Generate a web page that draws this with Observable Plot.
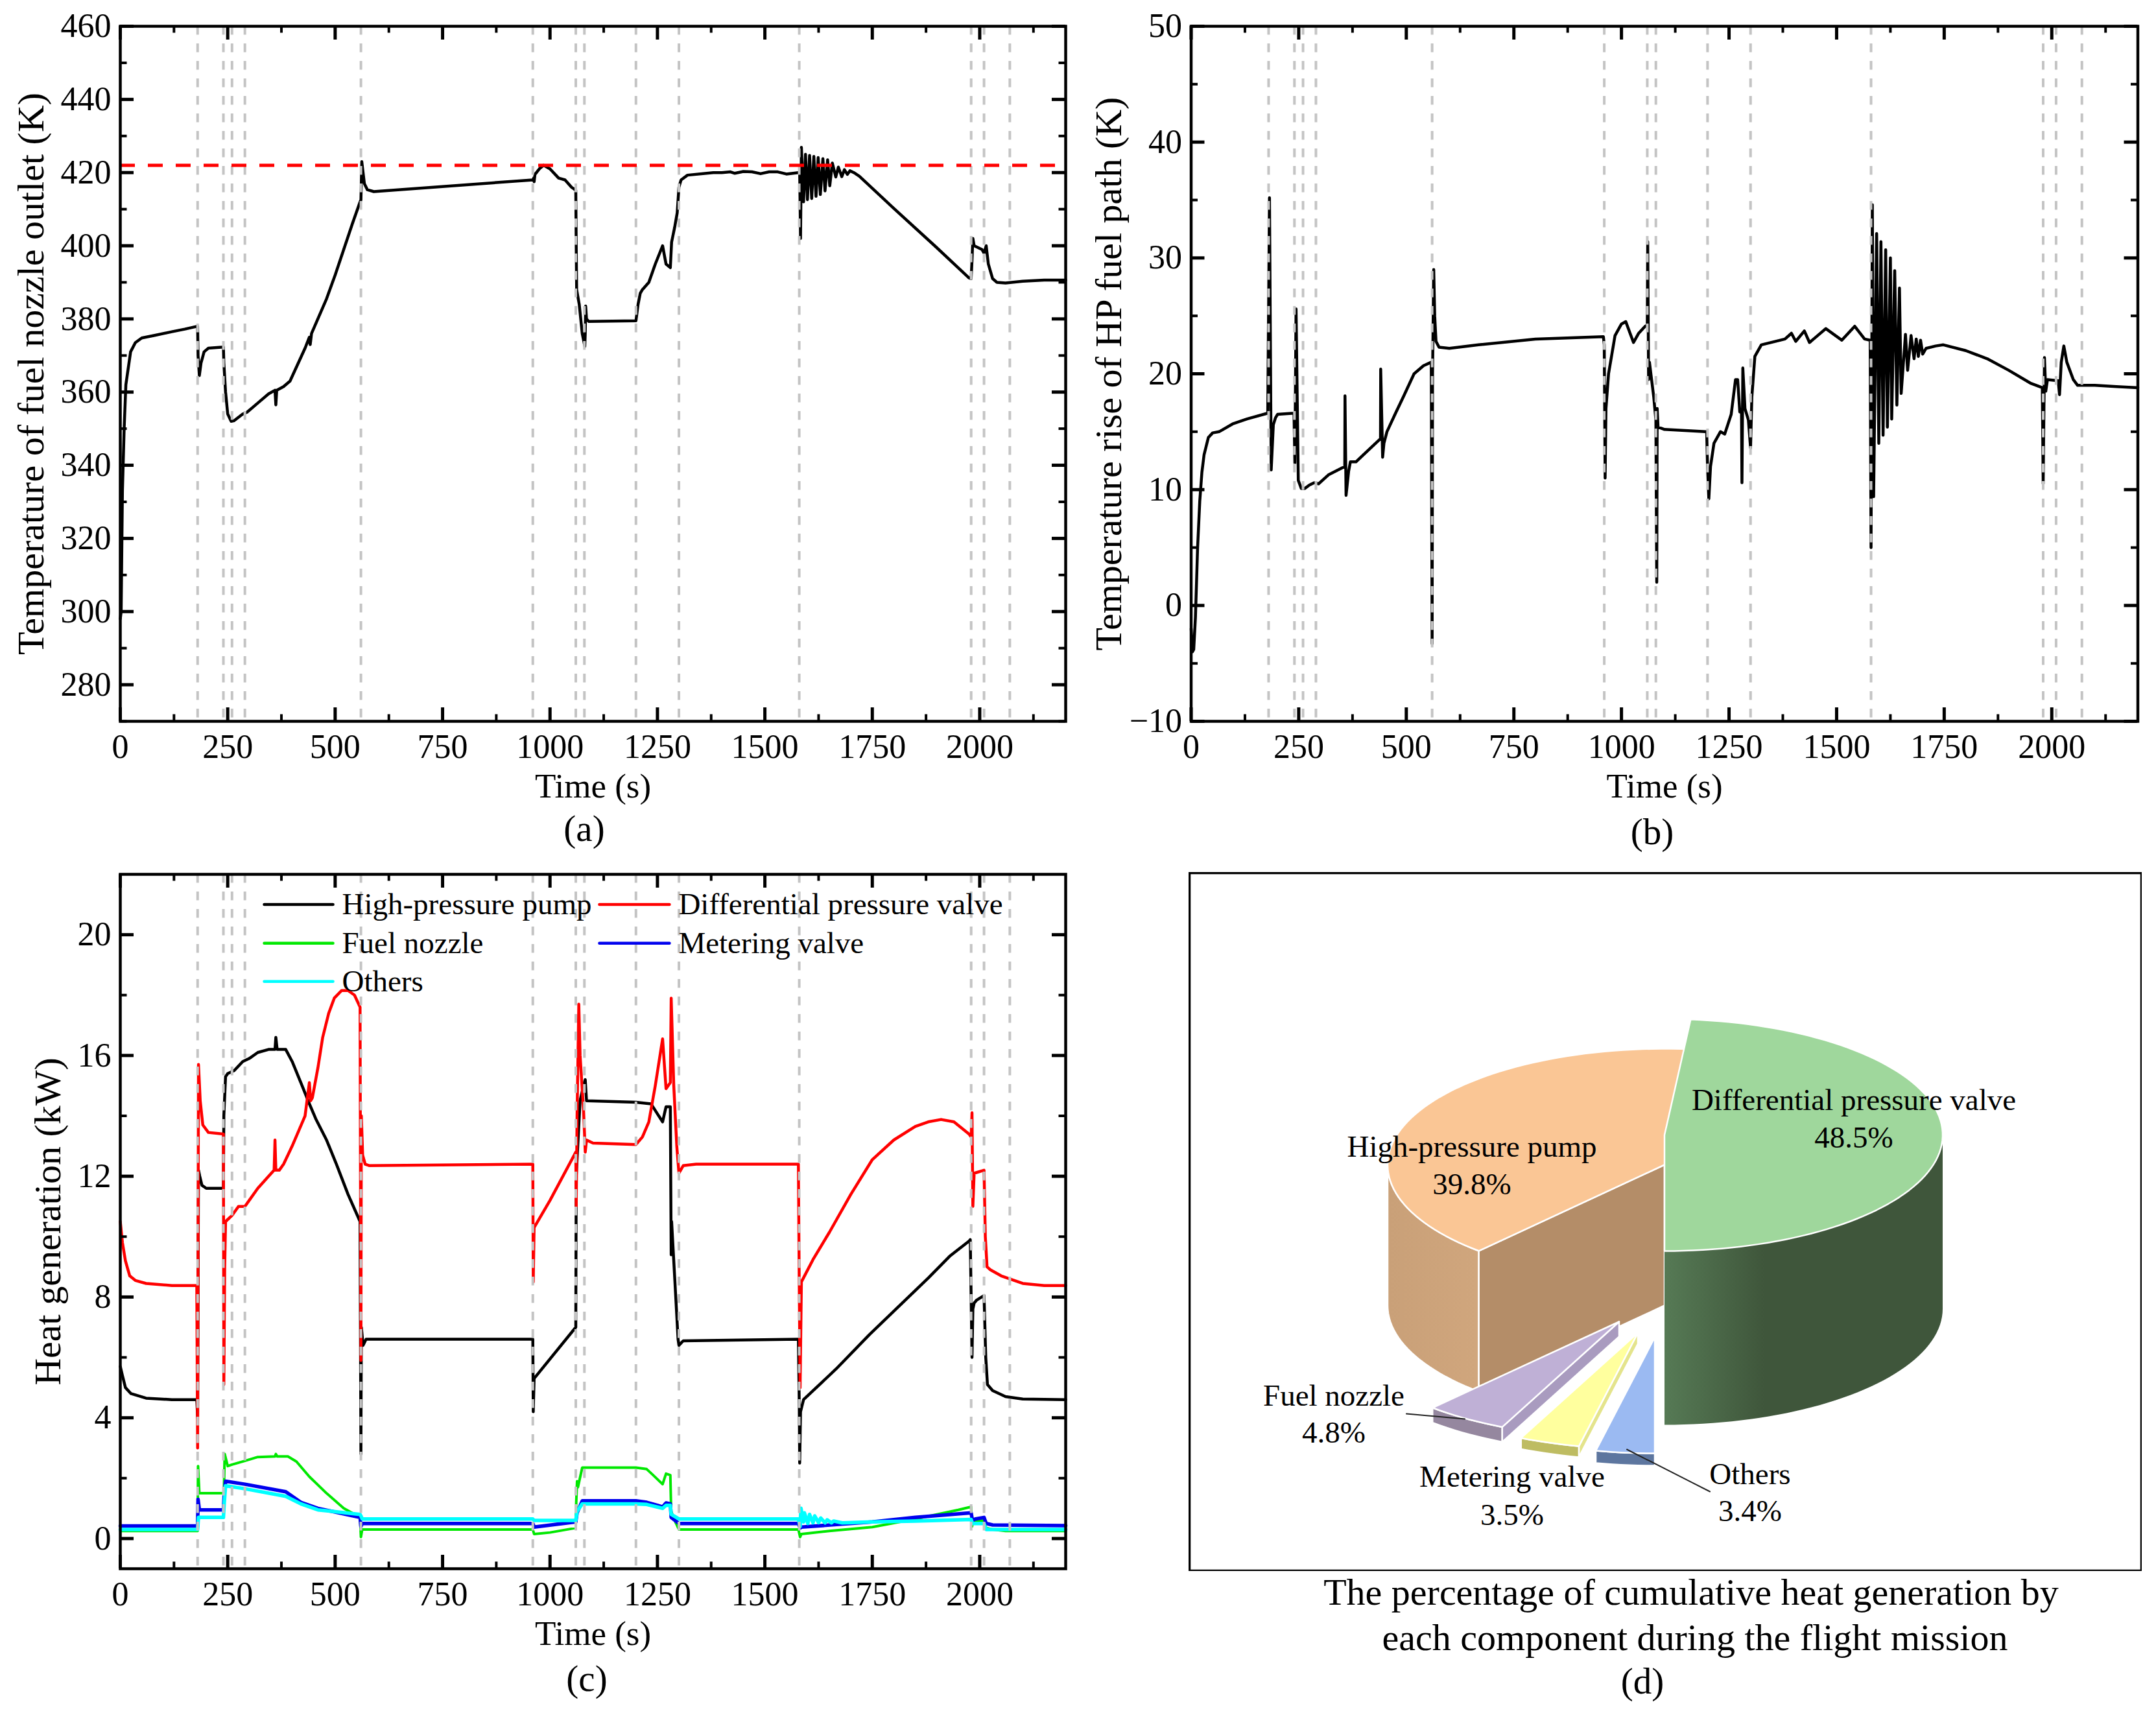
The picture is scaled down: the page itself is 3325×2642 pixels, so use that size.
<!DOCTYPE html>
<html>
<head>
<meta charset="utf-8">
<script src="https://cdn.jsdelivr.net/npm/d3@7"></script>
<script src="https://cdn.jsdelivr.net/npm/@observablehq/plot@0.6"></script>
<style>
html,body{margin:0;padding:0;background:#fff;}
#page{position:relative;width:3325px;height:2642px;overflow:hidden;font-family:"Liberation Serif",serif;color:#000;background:#fff;}
#page>svg{position:absolute;}
.cap{position:absolute;transform:translateX(-50%);white-space:nowrap;line-height:1;}
</style>
</head>
<body>
<div id="page"></div>
<script>
const phaseMarks = [180,240,260,290,560,960,1060,1080,1200,1300,1580,1980,2010,2070];
const xMajor = [0,250,500,750,1000,1250,1500,1750,2000];
const xMinor = [125,375,625,875,1125,1375,1625,1875,2125];

const nozzleOutlet = [[0,298],[2,300],[5,333],[9,350],[13,362],[24,371],[35,373.5],[50,374.8],[80,375.5],[120,376.5],[150,377.2],[180,378],[181,370],[184,364.5],[188,368],[195,371],[205,372],[240,372.3],[241,368],[245,360],[250,354],[258,352],[265,352.2],[285,354],[295,354.5],[320,357],[345,359.5],[360,360.5],[362,356.5],[364,360.5],[380,361.5],[395,363],[430,372],[440,375],[442,373],[445,376],[480,385.5],[500,392],[520,399],[540,406],[558,412],[560,412.5],[562,423],[565,420],[568,417],[575,415.3],[590,414.8],[960,418],[962,418.5],[963,417.5],[965,419.5],[975,421],[985,422],[1000,421],[1020,418.5],[1035,418],[1050,416],[1060,415.2],[1061,400],[1062,388],[1068,384],[1075,376],[1081,372.5],[1082,376],[1083,383.5],[1085,380],[1090,379.3],[1200,379.5],[1205,384],[1210,387],[1215,388],[1230,390],[1245,395],[1262,400],[1270,395],[1280,394],[1283,401],[1290,405],[1296,409],[1300,416],[1305,418],[1320,419.3],[1380,420],[1400,420],[1420,420.2],[1430,419.8],[1450,420.3],[1470,420.2],[1490,419.7],[1510,420.2],[1530,420.2],[1550,419.6],[1578,420],[1581,420],[1583,402],[1585,426.9],[1590,412],[1594.5,425],[1599,412.6],[1604,424.7],[1609,412.9],[1614,424.4],[1619,413.5],[1624,424.1],[1629,414],[1635,423.8],[1640,415],[1646,423.5],[1651,416.4],[1657,422.6],[1665,418.8],[1671,421.5],[1679,418.9],[1685,420.8],[1692,419.5],[1698,420.5],[1707,420],[1720,419],[1800,410.2],[1898,399.7],[1975,391.2],[1980,391],[1982,396],[1984,402],[1987,400],[2005,399],[2010,398],[2015,400],[2020,395],[2030,391],[2040,390],[2060,389.8],[2100,390.3],[2150,390.6],[2200,390.6]];
const limitTemp = [422];

const fuelPathRise = [[0,-2],[3,-4],[6,-3.8],[10,-1],[15,5],[20,9],[25,11.5],[30,13],[40,14.5],[50,14.9],[65,15],[98,15.7],[130,16.1],[178,16.6],[182,35.2],[186,11.7],[191,15.6],[196,16.2],[201,16.5],[239,16.6],[241,12.3],[243.8,25.6],[249,10.8],[256,10.1],[264,10.1],[275,10.4],[286,10.6],[296,10.5],[320,11.3],[357,12],[357.5,18.1],[360,9.5],[366,11.6],[370,12.4],[383,12.4],[400,13],[420,13.7],[440,14.4],[440.5,20.4],[445,12.8],[448,14],[455,15],[475,16.6],[493,18],[518,20],[540,20.7],[558,21],[560,-3.3],[561,20],[563.7,29],[566,25],[569,22.8],[576,22.3],[600,22.2],[668,22.5],[800,23],[958,23.2],[960,22.5],[962,11],[964,17],[970,20],[985,23.3],[1000,24.3],[1010,24.5],[1020,23.5],[1028,22.7],[1040,23.5],[1055,24.1],[1060,24.2],[1061,31.4],[1063,19.5],[1065,21],[1075,18],[1080,16],[1082,2],[1083,17],[1085,15.4],[1100,15.2],[1195,15],[1198,15],[1200,12],[1203,9.2],[1207,12],[1215,14],[1230,15],[1240,14.8],[1255,16.5],[1265,19.5],[1270,19.5],[1275,16.7],[1279,16.7],[1280,10.6],[1282,20.5],[1287,17],[1295,16],[1300,13.6],[1303,18],[1310,21.5],[1325,22.5],[1380,23],[1395,23.5],[1405,22.8],[1425,23.7],[1437,22.7],[1475,23.9],[1512,22.9],[1542,24.1],[1565,23],[1578,22.9],[1580,5],[1583,34.6],[1586,9.4],[1593,32.1],[1598,14],[1603,31.4],[1608,14.7],[1614,30.7],[1618,15.4],[1625,30],[1628,16.1],[1635,28.9],[1640,17.3],[1646,27.4],[1650,18.3],[1660,23.4],[1665,20.3],[1673,23.3],[1680,21.3],[1685,23],[1690,21.5],[1695,22.9],[1700,21.7],[1708,22.2],[1730,22.4],[1748,22.5],[1800,22],[1850,21.3],[1900,20.3],[1950,19.2],[1978,18.8],[1980,10.5],[1983,21.4],[1986,18.5],[1990,19.5],[2015,19.4],[2018,18.2],[2022,21],[2028,22.4],[2035,21],[2050,19.5],[2060,19],[2100,19],[2150,18.9],[2200,18.8]];

const highPressurePump = [[0,5.7],[5,5.4],[12,5],[25,4.8],[60,4.65],[120,4.6],[178,4.6],[180,4],[182,12.2],[185,12],[190,11.7],[200,11.6],[240,11.6],[241,14],[245,15.3],[250,15.4],[265,15.5],[285,15.8],[300,15.9],[320,16.1],[345,16.2],[360,16.2],[362,16.6],[365,16.2],[385,16.2],[400,15.8],[423,15],[440,14.4],[455,13.9],[480,13.2],[503,12.4],[530,11.4],[558,10.5],[560,2.8],[561,7],[565,6.4],[572,6.6],[960,6.6],[961,4.2],[963,5.3],[1060,7],[1061,12],[1070,14.5],[1078,15],[1082,15.2],[1085,14.5],[1200,14.45],[1235,14.4],[1262,13.8],[1270,14.3],[1280,14.3],[1282,9.4],[1283,10.5],[1298,6.6],[1300,6.4],[1310,6.55],[1578,6.6],[1580,4.5],[1581,2.5],[1583,4.2],[1590,4.6],[1666,5.62],[1743,6.75],[1881,8.64],[1930,9.35],[1975,9.85],[1978,9.9],[1980,8],[1982,6],[1984,7.6],[1987,7.8],[1993,7.9],[2010,8.05],[2014,6],[2018,5.1],[2030,4.9],[2060,4.7],[2100,4.62],[2200,4.6]];
const diffPressureValve = [[0,10.5],[5,9.8],[12,9.2],[22,8.7],[35,8.55],[60,8.45],[120,8.38],[178,8.38],[180,3],[182,15.7],[186,14.5],[192,13.7],[205,13.45],[240,13.4],[241,5.1],[243,9],[245,10.5],[260,10.7],[275,11],[290,11],[300,11.2],[320,11.6],[345,12],[358,12.2],[360,13.2],[362,12.2],[370,12.2],[380,12.4],[400,13],[430,14],[440,15.1],[443,14.5],[447,14.6],[460,15.6],[471,16.6],[485,17.4],[498,17.9],[515,18.15],[530,18.15],[545,18],[558,17.6],[560,5.9],[561,14],[564,12.7],[570,12.4],[580,12.35],[960,12.4],[961,8.5],[963,10.3],[1000,11.2],[1060,12.8],[1061,11],[1063,14],[1067,17.7],[1070,16],[1078,14.2],[1082,12.8],[1085,13.2],[1100,13.1],[1200,13.05],[1215,13.3],[1230,13.8],[1245,15],[1262,16.55],[1270,14.9],[1280,15.1],[1282,17.9],[1288,15],[1295,13],[1300,12.1],[1310,12.35],[1340,12.4],[1578,12.4],[1580,8.4],[1582,5],[1585,8.5],[1612,9.24],[1650,10.14],[1700,11.4],[1750,12.55],[1800,13.2],[1850,13.65],[1880,13.8],[1910,13.88],[1940,13.8],[1975,13.4],[1980,13.3],[1982,14.1],[1984,11],[1987,12.1],[2010,12.2],[2013,10],[2017,9],[2025,8.9],[2050,8.7],[2100,8.45],[2150,8.38],[2200,8.38]];
const fuelNozzle = [[0,.25],[180,.25],[181,2.4],[184,1.5],[241,1.5],[243,2.8],[250,2.4],[260,2.45],[285,2.55],[320,2.7],[360,2.72],[362,2.8],[365,2.72],[390,2.72],[410,2.55],[440,2.05],[480,1.5],[520,1],[558,.7],[560,.05],[563,.3],[960,.3],[963,.15],[1000,.2],[1060,.35],[1061,1.2],[1063,1.9],[1065,1.7],[1075,2.35],[1200,2.35],[1225,2.3],[1240,2.1],[1262,1.8],[1270,2.15],[1280,2.1],[1282,.9],[1290,.6],[1300,.3],[1578,.3],[1582,.05],[1585,.15],[1650,.25],[1750,.38],[1850,.65],[1950,.95],[1980,1.05],[1982,.4],[1985,.6],[2010,.6],[2015,.35],[2030,.3],[2060,.25],[2200,.25]];
const meteringValve = [[0,.42],[180,.42],[181,1.3],[184,.95],[240,.95],[242,1.5],[245,1.9],[290,1.8],[385,1.55],[420,1.2],[460,1],[558,.7],[560,.4],[563,.5],[960,.5],[963,.38],[1060,.55],[1063,.85],[1075,1.25],[1200,1.25],[1225,1.2],[1262,1.05],[1270,1.18],[1280,1.15],[1282,.7],[1300,.5],[1578,.5],[1582,.35],[1585,.38],[1750,.55],[1850,.7],[1980,.85],[1983,.6],[1990,.65],[2010,.7],[2015,.5],[2030,.45],[2200,.43]];
const others = [[0,.3],[180,.3],[182,.7],[240,.7],[242,1.2],[245,1.75],[290,1.65],[385,1.4],[420,1.15],[460,.95],[558,.8],[560,.75],[563,.65],[960,.65],[963,.6],[1060,.6],[1063,.9],[1075,1.15],[1200,1.15],[1225,1.13],[1262,1],[1270,1.1],[1280,1.1],[1282,.8],[1300,.65],[1578,.65],[1582,.4],[1584,1],[1590,.55],[1592,.85],[1600,.5],[1604,.8],[1612,.52],[1616,.75],[1625,.53],[1630,.68],[1640,.52],[1645,.62],[1655,.52],[1660,.58],[1680,.52],[1750,.55],[1850,.58],[1980,.63],[1983,.5],[2010,.5],[2015,.3],[2200,.3]];

const legendNames = ["High-pressure pump","Differential pressure valve","Fuel nozzle","Metering valve","Others"];
const legendColors = ["#000000","#ff0000","#00e800","#0000ee","#00ffff"];
const legendWidths = [4.5,4.5,4,5.5,5.5];
const legendLineStart = [335,1115,335,1115,335];
const legendLineEnd = [495,1278,495,1278,495];
const legendTextStart = [516,1299,516,1299,516];
const legendRow = [21,21,19.72,19.72,18.45];

const pieNames = ["Differential pressure valve","Others","Metering valve","Fuel nozzle","High-pressure pump"];
const pieShares = [48.5,3.4,3.5,4.8,39.8];
const pieStartAngle = 5.4;

const T = 4.5, TICK = 21, MINOR = 10.5;
const serif = "Liberation Serif";

function rules(xs, h, size, w){
  return [
    Plot.ruleX(xs,{x:d=>d,insetTop:h-size,stroke:"#000",strokeWidth:w}),
    Plot.ruleX(xs,{x:d=>d,insetBottom:h-size,stroke:"#000",strokeWidth:w})
  ];
}
function hrules(ys, w, size, sw){
  return [
    Plot.ruleY(ys,{y:d=>d,insetRight:w-size,stroke:"#000",strokeWidth:sw}),
    Plot.ruleY(ys,{y:d=>d,insetLeft:w-size,stroke:"#000",strokeWidth:sw})
  ];
}
function timePanel({left,top,width,height,ml,mr,mt,mb,yDomain,yMajor,yMinor,yLabel,labelDx,series,extra=[]}){
  const pw = width-ml-mr, ph = height-mt-mb;
  const plot = Plot.plot({
    width,height,marginLeft:ml,marginRight:mr,marginTop:mt,marginBottom:mb,
    style:{fontFamily:serif,background:"transparent",overflow:"visible"},
    x:{domain:[0,2200],label:null,axis:null},
    y:{domain:yDomain,label:null,axis:null},
    marks:[
      ...series.map(s=>Plot.line(s.data,{x:d=>d[0],y:d=>d[1],stroke:s.color,strokeWidth:s.w,strokeLinejoin:"round",strokeMiterlimit:4})),
      Plot.ruleX(phaseMarks,{x:d=>d,stroke:"#c4c4c4",strokeWidth:4,strokeDasharray:"13.5,13.5"}),
      ...extra,
      Plot.axisX({ticks:xMajor,tickSize:0,tickPadding:20,tickFormat:"d",fontSize:52,label:null}),
      Plot.axisY({ticks:yMajor,tickSize:0,tickPadding:14,tickFormat:"d",fontSize:52,label:null}),
      Plot.text(["Time (s)"],{frameAnchor:"bottom",lineAnchor:"middle",dy:101,fontSize:53,fill:"#000"}),
      Plot.text([yLabel],{frameAnchor:"left",textAnchor:"middle",lineAnchor:"middle",dx:labelDx,rotate:-90,fontSize:58,fill:"#000"}),
      ...rules(xMajor,ph,TICK,5),...rules(xMinor,ph,MINOR,4),
      ...hrules(yMajor,pw,TICK,5),...hrules(yMinor,pw,MINOR,4),
      Plot.frame({stroke:"#000",strokeWidth:T})
    ]
  });
  plot.style.left = left+"px"; plot.style.top = top+"px";
  return plot;
}

const page = document.getElementById("page");

page.append(timePanel({left:0,top:0,width:1660,height:1320,ml:185,mr:17,mt:40,mb:208,
  yDomain:[270,460],yMajor:d3.range(280,461,20),yMinor:d3.range(270,460,20),
  yLabel:"Temperature of fuel nozzle outlet (K)",labelDx:-137,
  series:[{data:nozzleOutlet,color:"#000",w:4.5}],
  extra:[Plot.ruleY(limitTemp,{y:d=>d,stroke:"#ff0000",strokeWidth:5,strokeDasharray:"23,20"})]
}));

page.append(timePanel({left:1660,top:0,width:1665,height:1320,ml:176.5,mr:28.5,mt:40,mb:208,
  yDomain:[-10,50],yMajor:d3.range(-10,51,10),yMinor:d3.range(-5,50,10),
  yLabel:"Temperature rise of HP fuel path (K)",labelDx:-127,
  series:[{data:fuelPathRise,color:"#000",w:4.5}]
}));

page.append(timePanel({left:0,top:1320,width:1660,height:1322,ml:185,mr:17,mt:28,mb:223,
  yDomain:[-1,22],yMajor:d3.range(0,21,4),yMinor:d3.range(2,22,4),
  yLabel:"Heat generation (kW)",labelDx:-111,
  series:[
    {data:highPressurePump,color:legendColors[0],w:legendWidths[0]},
    {data:diffPressureValve,color:legendColors[1],w:legendWidths[1]},
    {data:fuelNozzle,color:legendColors[2],w:legendWidths[2]},
    {data:meteringValve,color:legendColors[3],w:legendWidths[3]},
    {data:others,color:legendColors[4],w:legendWidths[4]}
  ],
  extra:[
    ...legendNames.map((n,i)=>Plot.line([[legendLineStart[i],legendRow[i]],[legendLineEnd[i],legendRow[i]]],{x:d=>d[0],y:d=>d[1],stroke:legendColors[i],strokeWidth:4.5})),
    Plot.text(legendNames,{x:(d,i)=>legendTextStart[i],y:(d,i)=>legendRow[i],text:d=>d,textAnchor:"start",fontSize:47,fill:"#000"})
  ]
}));

/* ---------- panel (d): pseudo-3D pie built from the shares ---------- */
function sliceAngles(){
  let a = pieStartAngle;
  return pieShares.map(s=>{const r=[a,a+s*3.6];a=r[1];return r;});
}
const angles = sliceAngles();
const pt = (c,a,dy=0)=>{const t=a*Math.PI/180;return [c.cx+c.rx*Math.sin(t),c.cy-c.ry*Math.cos(t)+dy];};
const arc = (c,a0,a1,dy=0)=>{const n=Math.max(2,Math.ceil(Math.abs(a1-a0)/2));return d3.range(n+1).map(i=>pt(c,a0+(a1-a0)*i/n,dy));};
const top_ = (c,a0,a1)=>[[c.cx,c.cy],...arc(c,a0,a1),[c.cx,c.cy]];
const wall = (c,a0,a1)=>[...arc(c,a0,a1),...arc(c,a1,a0,c.h),pt(c,a0)];
const side = (c,a)=>[[c.cx,c.cy],pt(c,a),pt(c,a,c.h),[c.cx,c.cy+c.h],[c.cx,c.cy]];
const poly = (pts,fill,stroke="#fff",w=2.5)=>Plot.line(pts,{x:d=>d[0],y:d=>d[1],fill,stroke,strokeWidth:w,strokeLinejoin:"round"});

const G = {cx:2566,cy:1750,rx:429,ry:179,h:268};
const H = {cx:2566,cy:1796,rx:427,ry:179,h:217};
const O = {cx:2551,cy:2062,rx:429,ry:179,h:19};
const M = {cx:2525,cy:2055,rx:429,ry:179,h:17};
const F = {cx:2496,cy:2038,rx:429,ry:179,h:23};
const [aG,aO,aM,aF,aH] = angles;

const defsMark = () => {
  const defs = d3.create("svg:defs");
  const grad = (id,stops)=>{
    const g = defs.append("linearGradient").attr("id",id).attr("x1","0").attr("x2","1").attr("y1","0").attr("y2","0");
    stops.forEach(([o,c])=>g.append("stop").attr("offset",o).attr("stop-color",c));
  };
  grad("greenWall",[[0,"#567a55"],[0.36,"#3f563b"],[1,"#3f563b"]]);
  grad("orangeWall",[[0,"#c9a078"],[1,"#d0a67d"]]);
  return defs.node();
};

const pieLabels = [
  ["Differential pressure valve",2858,1696],["48.5%",2858,1754],
  ["High-pressure pump",2269,1768],["39.8%",2269,1826],
  ["Fuel nozzle",2056,2152],["4.8%",2056,2209],
  ["Metering valve",2331,2277],["3.5%",2331,2336],
  ["Others",2698,2273],["3.4%",2698,2330]
];

const pie = Plot.plot({
  width:1470,height:1078,margin:0,
  style:{fontFamily:serif,background:"transparent"},
  x:{domain:[1836.5,3296.5],range:[4,1464],axis:null},
  y:{domain:[2419,1349],range:[1074,4],axis:null},
  marks:[
    defsMark,
    poly(wall(H,aH[0],270),"url(#orangeWall)"),
    poly(side(H,aH[0]),"#b48d68"),
    poly(wall(G,90,aG[1]),"url(#greenWall)","none"),
    poly(top_(H,aH[0],aH[1]),"#fac695"),
    poly(top_(G,aG[0],aG[1]),"#9fd79c"),
    poly(wall(F,aF[0],aF[1]),"#95879f"),
    poly(side(F,aF[0]),"#a99bbf"),
    poly(top_(F,aF[0],aF[1]),"#bfb0d6"),
    poly(wall(M,aM[0],aM[1]),"#bebc62"),
    poly(side(M,aM[0]),"#e4e48c"),
    poly(top_(M,aM[0],aM[1]),"#ffff9e"),
    poly(wall(O,aO[0],aO[1]),"#5d769f"),
    poly(top_(O,aO[0],aO[1]),"#9bbaf2"),
    Plot.line([[2168,2180],[2258,2188]],{x:d=>d[0],y:d=>d[1],stroke:"#222",strokeWidth:2}),
    Plot.line([[2508,2235],[2636,2300]],{x:d=>d[0],y:d=>d[1],stroke:"#222",strokeWidth:2}),
    Plot.text(pieLabels,{x:d=>d[1],y:d=>d[2],text:d=>d[0],fontSize:47,fill:"#000"}),
    Plot.frame({stroke:"#000",strokeWidth:5.5})
  ]
});
pie.style.left="1832.5px"; pie.style.top="1345px";
page.append(pie);

/* captions */
const captions = [
  ["(a)",901,1249,57],["(b)",2548,1254,57],["(c)",905,2560,57],["(d)",2533,2564,57],
  ["The percentage of cumulative heat generation by",2608,2427,58],
  ["each component during the flight mission",2614,2497,58]
];
for (const [t,x,y,s] of captions){
  const d=document.createElement("div");
  d.className="cap"; d.textContent=t;
  d.style.left=x+"px"; d.style.top=y+"px"; d.style.fontSize=s+"px";
  page.append(d);
}
</script>
</body>
</html>
